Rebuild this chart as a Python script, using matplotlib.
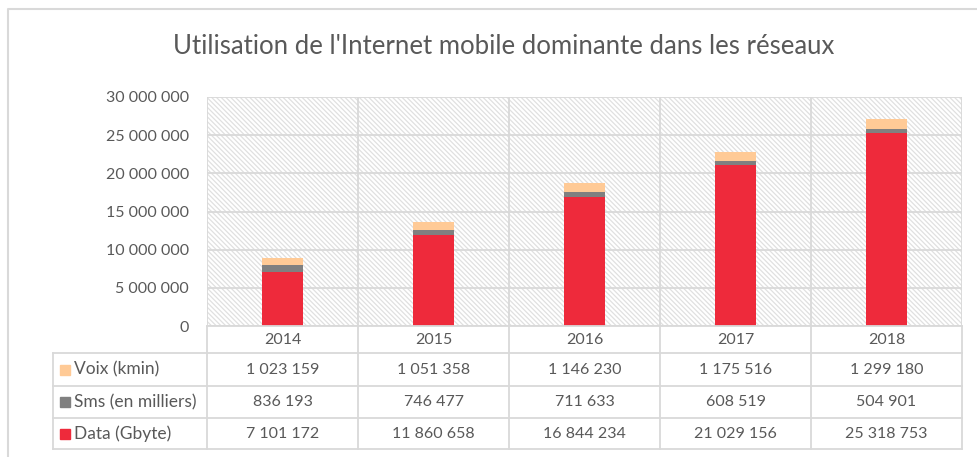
import matplotlib
matplotlib.use('Agg')
import matplotlib.pyplot as plt
from matplotlib.patches import Rectangle

plt.rcParams['font.family'] = ['Lato', 'DejaVu Sans']
plt.rcParams['hatch.linewidth'] = 0.9

# Annual usage figures per network
years = ['2014', '2015', '2016', '2017', '2018']
voix = [1023159, 1051358, 1146230, 1175516, 1299180]
sms = [836193, 746477, 711633, 608519, 504901]
data = [7101172, 11860658, 16844234, 21029156, 25318753]
series_names = ['Voix (kmin)', 'Sms (en milliers)', 'Data (Gbyte)']
y_ticks = [0, 5000000, 10000000, 15000000, 20000000, 25000000, 30000000]

c_data = '#ee2a3b'
c_sms = '#808080'
c_voix = '#ffca96'
grid_c = '#d9d9d9'
text_c = '#595959'

W, H = 978, 457
fig = plt.figure(figsize=(W / 100, H / 100), dpi=100)


def fmt(v):
    return f'{v:,}'.replace(',', ' ')


# plot area in pixels
px_l, px_r, px_t, px_b = 207, 962, 97, 326
ax = fig.add_axes([px_l / W, 1 - px_b / H, (px_r - px_l) / W, (px_b - px_t) / H])
ax.set_xlim(-0.5, len(years) - 0.5)
ax.set_ylim(0, 30000000)

ax.add_patch(Rectangle((0, 0), 1, 1, transform=ax.transAxes, facecolor='white',
                       edgecolor='#e0e0e0', hatch='\\' * 7, linewidth=0, zorder=0))

x = range(len(years))
bw = 0.27
ax.bar(x, data, bw, color=c_data, zorder=3)
ax.bar(x, sms, bw, bottom=data, color=c_sms, zorder=3)
bottom3 = [d + s for d, s in zip(data, sms)]
ax.bar(x, voix, bw, bottom=bottom3, color=c_voix, zorder=3)

ax.set_yticks(y_ticks)
ax.set_yticklabels([fmt(t) for t in y_ticks], color=text_c, fontsize=11.5)
ax.tick_params(axis='y', length=0, pad=13)
ax.set_xticks([])
for t in y_ticks:
    ax.axhline(t, color=grid_c, lw=1.3, zorder=1)
for i in range(len(years) + 1):
    ax.axvline(i - 0.5, color=grid_c, lw=1.3, zorder=1)
for s in ax.spines.values():
    s.set_visible(False)

# data table below the plot area
tab = fig.add_axes([0, 0, 1, 1])
tab.set_xlim(0, W)
tab.set_ylim(H, 0)
tab.axis('off')
tab.patch.set_alpha(0)

rows_y = [326, 353, 386, 418, 449]
tab_l = 53
col_w = (px_r - px_l) / len(years)
col_x = [px_l + i * col_w for i in range(len(years) + 1)]

for cx in col_x:
    tab.plot([cx, cx], [rows_y[0], rows_y[-1]], color=grid_c, lw=1.3)
tab.plot([tab_l, tab_l], [rows_y[1], rows_y[-1]], color=grid_c, lw=1.3)
for i, ry in enumerate(rows_y):
    x0 = px_l if i == 0 else tab_l
    tab.plot([x0, px_r], [ry, ry], color=grid_c, lw=1.3)

for i, yr in enumerate(years):
    tab.text((col_x[i] + col_x[i + 1]) / 2, (rows_y[0] + rows_y[1]) / 2 + 1, yr,
             ha='center', va='center', fontsize=11.5, color=text_c)

table_rows = [(series_names[0], voix, c_voix),
              (series_names[1], sms, c_sms),
              (series_names[2], data, c_data)]
for r, (name, vals, col) in enumerate(table_rows):
    cy = (rows_y[r + 1] + rows_y[r + 2]) / 2
    tab.add_patch(Rectangle((60, cy - 5), 10, 10, color=col))
    tab.text(74, cy, name, ha='left', va='center', fontsize=12.5, color=text_c)
    for i, v in enumerate(vals):
        tab.text((col_x[i] + col_x[i + 1]) / 2, cy, fmt(v),
                 ha='center', va='center', fontsize=11.5, color=text_c)

# chart frame
tab.plot([8, 8, W + 5], [H + 5, 9, 9], color=grid_c, lw=1.5)

fig.text(504 / W, 1 - 47 / H, "Utilisation de l'Internet mobile dominante dans les réseaux",
         ha='center', va='center', fontsize=18.5, color=text_c)

fig.savefig('out.png', dpi=100)
